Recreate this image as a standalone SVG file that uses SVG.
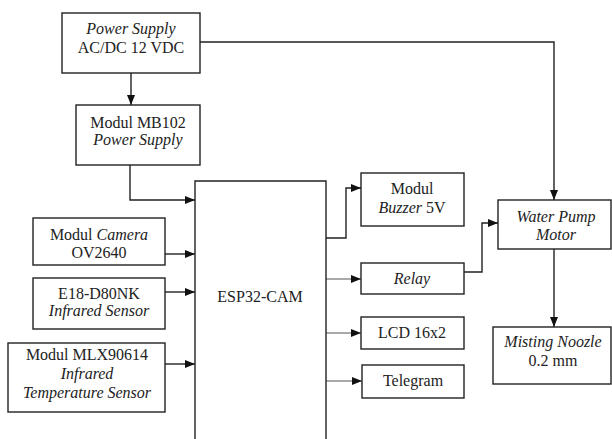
<svg xmlns="http://www.w3.org/2000/svg" width="612" height="439" viewBox="0 0 612 439">
<style>
.box{fill:#fff;stroke:#222;stroke-width:1.4}
.t{font-family:"Liberation Serif","Times New Roman",serif;font-size:16px;fill:#222;text-anchor:middle}
.i{font-style:italic}
.c{fill:none;stroke:#222;stroke-width:1.4}
.c2{fill:none;stroke:#555;stroke-width:1.1}
</style>
<defs>
<marker id="ah" markerUnits="userSpaceOnUse" markerWidth="10" markerHeight="10" viewBox="0 0 10 10" refX="10" refY="5" orient="auto">
<path d="M0,1 L10,5 L0,9 Z" fill="#111"/>
</marker>
</defs>
<rect width="612" height="439" fill="#fff"/>
<g id="connectors">
<path class="c" d="M200,42 H554 V200" marker-end="url(#ah)"/>
<path class="c" d="M131,73 V105" marker-end="url(#ah)"/>
<path class="c" d="M130,165 V200 H195" marker-end="url(#ah)"/>
<path class="c" d="M165,254 H195" marker-end="url(#ah)"/>
<path class="c" d="M165,292 H195" marker-end="url(#ah)"/>
<path class="c" d="M165,364 H195" marker-end="url(#ah)"/>
<path class="c" d="M326,238 H346 V188 H361" marker-end="url(#ah)"/>
<path class="c2" d="M326,279 H361" marker-end="url(#ah)"/>
<path class="c2" d="M326,333 H361" marker-end="url(#ah)"/>
<path class="c2" d="M326,381 H362" marker-end="url(#ah)"/>
<path class="c" d="M464,272 H482 V223 H498" marker-end="url(#ah)"/>
<path class="c" d="M554,249 V327" marker-end="url(#ah)"/>
</g>
<g id="power-supply">
<rect class="box" x="62" y="13" width="138" height="60"/>
<text class="t i" x="131" y="34">Power Supply</text>
<text class="t" x="131" y="53">AC/DC 12 VDC</text>
</g>
<g id="mb102">
<rect class="box" x="76" y="105" width="124" height="60"/>
<text class="t" x="138" y="128">Modul MB102</text>
<text class="t i" x="138" y="145">Power Supply</text>
</g>
<g id="esp32">
<path class="box" d="M195,439 V181 H326 V439"/>
<text class="t" x="260" y="302">ESP32-CAM</text>
</g>
<g id="camera">
<rect class="box" x="33" y="218" width="132" height="47"/>
<text class="t" x="99" y="240">Modul <tspan class="i">Camera</tspan></text>
<text class="t" x="99" y="258">OV2640</text>
</g>
<g id="e18">
<rect class="box" x="33" y="278" width="132" height="51"/>
<text class="t" x="99" y="299">E18-D80NK</text>
<text class="t i" x="99" y="316">Infrared Sensor</text>
</g>
<g id="mlx">
<rect class="box" x="8" y="343" width="157" height="69"/>
<text class="t" x="87" y="360">Modul MLX90614</text>
<text class="t i" x="87" y="379">Infrared</text>
<text class="t i" x="87" y="398">Temperature Sensor</text>
</g>
<g id="buzzer">
<rect class="box" x="361" y="173" width="103" height="53"/>
<text class="t" x="412" y="194">Modul</text>
<text class="t" x="412" y="213"><tspan class="i">Buzzer</tspan> 5V</text>
</g>
<g id="relay">
<rect class="box" x="361" y="263" width="103" height="31"/>
<text class="t i" x="412" y="284">Relay</text>
</g>
<g id="lcd">
<rect class="box" x="361" y="317" width="103" height="32"/>
<text class="t" x="412" y="338">LCD 16x2</text>
</g>
<g id="telegram">
<rect class="box" x="362" y="365" width="102" height="33"/>
<text class="t" x="413" y="386">Telegram</text>
</g>
<g id="water-pump">
<rect class="box" x="498" y="200" width="113" height="49"/>
<text class="t i" x="556" y="222">Water Pump</text>
<text class="t i" x="556" y="240">Motor</text>
</g>
<g id="misting">
<rect class="box" x="493" y="327" width="118" height="57"/>
<text class="t i" x="553" y="347">Misting Noozle</text>
<text class="t" x="553" y="366">0.2 mm</text>
</g>
</svg>
